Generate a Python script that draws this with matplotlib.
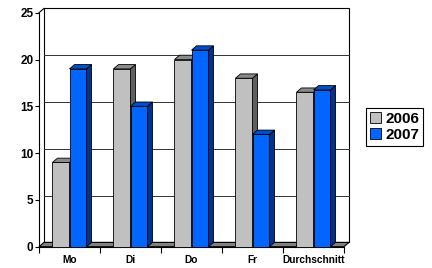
import numpy as np
import matplotlib.pyplot as plt
from matplotlib.patches import Polygon, Patch

plt.rcParams['font.family'] = ['Liberation Sans', 'DejaVu Sans']

# Daten
categories = ['Mo', 'Di', 'Do', 'Fr', 'Durchschnitt']
values_2006 = [9, 19, 20, 18, 16.5]
values_2007 = [19, 15, 21, 12, 16.75]
series_names = ['2006', '2007']

# Farben: Vorderseite, Oberseite, Seite
colors_2006 = ('#C0C0C0', '#8A8A8A', '#606060')
colors_2007 = ('#0066FF', '#0050CC', '#00338C')

fig = plt.figure(figsize=(4.32, 2.68), dpi=100)
ax = fig.add_axes([39 / 432, 21.3 / 268, 305 / 432, 234 / 268])
ax.set_xlim(-0.5, 4.5)
ax.set_ylim(0, 25)

# 3D-Tiefe in Datenkoordinaten (ca. 5 px nach rechts, 4.3 px nach oben)
dx = 5 / 61
dy = 4.3 / (234 / 25)

x = np.arange(len(categories))
width = 0.279

# Boden
floor = Polygon([(-0.5, 0), (4.5, 0), (4.5 + dx, dy), (-0.5 + dx, dy)],
                closed=True, facecolor='#808080', edgecolor='black', lw=0.8,
                clip_on=False, zorder=1)
ax.add_patch(floor)

# Rueckwand
wall = Polygon([(-0.5 + dx, dy), (4.5 + dx, dy), (4.5 + dx, 25 + dy), (-0.5 + dx, 25 + dy)],
               closed=True, facecolor='white', edgecolor='black', lw=0.8,
               clip_on=False, zorder=0.5)
ax.add_patch(wall)
for v in range(5, 25, 5):
    ax.plot([-0.5 + dx, 4.5 + dx], [v + dy, v + dy], color='#333333', lw=0.7,
            clip_on=False, zorder=0.8)
# Seitenwand oben
ax.plot([-0.5, -0.5 + dx], [25, 25 + dy], color='black', lw=0.8, clip_on=False, zorder=0.8)


def bar3d(x0, h, cols):
    x1 = x0 + width
    ax.bar(x0, h, width=width, align='edge', color=cols[0], edgecolor='black',
           lw=0.6, zorder=3, clip_on=False)
    top = Polygon([(x0, h), (x1, h), (x1 + dx, h + dy), (x0 + dx, h + dy)],
                  closed=True, facecolor=cols[1], edgecolor='black', lw=0.6,
                  zorder=3, clip_on=False)
    side = Polygon([(x1, 0), (x1 + dx, dy), (x1 + dx, h + dy), (x1, h)],
                   closed=True, facecolor=cols[2], edgecolor='black', lw=0.6,
                   zorder=3, clip_on=False)
    ax.add_patch(side)
    ax.add_patch(top)


for i in range(len(categories)):
    bar3d(x[i] - width, values_2006[i], colors_2006)
    bar3d(x[i], values_2007[i], colors_2007)

# Achsen
for s in ['top', 'right']:
    ax.spines[s].set_visible(False)
ax.spines['left'].set_linewidth(0.8)
ax.spines['bottom'].set_linewidth(0.8)
ax.spines['left'].set_zorder(5)
ax.patch.set_visible(False)

ax.set_yticks(range(0, 26, 5))
ax.tick_params(axis='y', length=3, width=0.8, pad=1, labelsize=8.5)
for lab in ax.get_yticklabels():
    lab.set_fontweight('bold')

ax.set_xticks(np.arange(-0.5, 5, 1))
ax.set_xticklabels([])
ax.tick_params(axis='x', which='major', length=4, width=0.8)
ax.set_xticks(x, minor=True)
ax.set_xticklabels(categories, minor=True, fontsize=7.3, fontweight='bold')
ax.tick_params(axis='x', which='minor', length=0, pad=6)

# Legende
handles = [Patch(facecolor=colors_2006[0], edgecolor='black', lw=0.6),
           Patch(facecolor=colors_2007[0], edgecolor='black', lw=0.6)]
leg = fig.legend(handles, series_names, loc='center left',
                 bbox_to_anchor=(366 / 432, 1 - 127 / 268),
                 fancybox=False, edgecolor='black', framealpha=1,
                 prop={'weight': 'bold', 'size': 11},
                 handlelength=0.7, handleheight=0.7, handletextpad=0.3,
                 labelspacing=0.15, borderpad=0.25, borderaxespad=0)
leg.get_frame().set_linewidth(0.8)

fig.savefig('out.png', dpi=100)
